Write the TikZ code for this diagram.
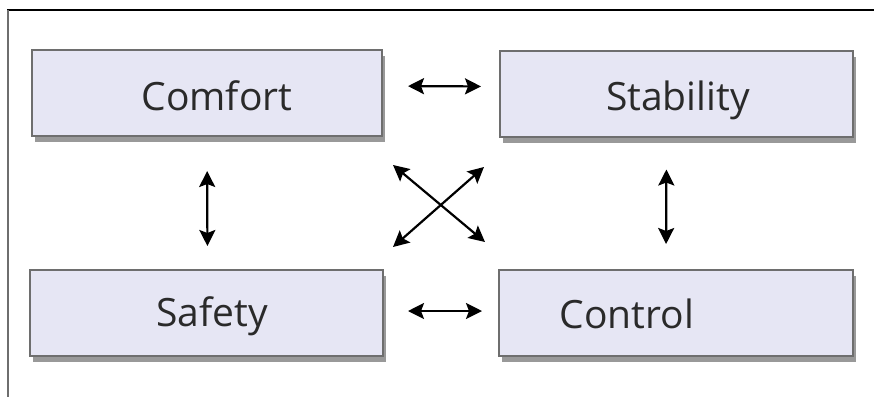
\documentclass[tikz,border=0pt]{standalone}
\usepackage{fontspec}
\setmainfont{Open Sans}
\usetikzlibrary{arrows.meta,shadows}
\definecolor{boxfill}{HTML}{E6E6F4}
\definecolor{boxline}{HTML}{6E6E6E}
\definecolor{txtgray}{HTML}{2A2A2A}
\tikzset{box/.style = {shape = rectangle, draw = boxline, line width = 2pt,
                       fill = boxfill, inner sep = 0pt, minimum height = 86pt,
                       drop shadow = {shadow xshift = 3pt, shadow yshift = -6pt,
                                      fill = black, opacity = 0.4}},
         lbl/.style = {anchor = base, inner sep = 0pt, text = txtgray,
                       font = \fontsize{39}{47}\selectfont},
         link/.style = {line width = 2.2pt, {Stealth[length = 16pt, width = 16pt, inset = 3pt]}-{Stealth[length = 16pt, width = 16pt, inset = 3pt]}}}
\begin{document}
\begin{tikzpicture}[x = 1pt, y = -1pt]
      \useasboundingbox (0, 0) rectangle (874, 397);
      \draw [line width = 1.5pt] (7, 10) -- (874, 10);
      \draw [line width = 2pt, draw = boxline] (8, 10) -- (8, 397);

      \node [box, minimum width = 350pt] (comfort)   at (207, 93)    {};
      \node [box, minimum width = 353pt] (stability) at (676.5, 93.5) {};
      \node [box, minimum width = 353pt] (safety)    at (206.5, 313) {};
      \node [box, minimum width = 354pt] (control)   at (676, 313)   {};

      \node [lbl] (comfortlbl)   at (217, 110) {Comfort};
      \node [lbl] (stabilitylbl) at (678, 110) {Stability};
      \node [lbl] (safetylbl)    at (212, 326) {Safety};
      \node [lbl] (controllbl)   at (627, 328) {Control};

      \draw [link, shorten < = 25pt, shorten > = 18pt]
            ([yshift = 7pt]comfort.east) -- ([yshift = 7pt]stability.west);
      \draw [link, shorten < = 24pt, shorten > = 16pt]
            ([yshift = 2pt]safety.east) -- ([yshift = 2pt]control.west);
      \draw [link, shorten < = 34pt, shorten > = 23pt]
            (comfort.south) -- ([xshift = 1pt]safety.north);
      \draw [link, shorten < = 32pt, shorten > = 25pt]
            ([xshift = -10pt]stability.south) -- ([xshift = -10pt]control.north);

      \coordinate (crossnw) at (393, 165);
      \coordinate (crossse) at (485, 242);
      \coordinate (crosssw) at (393, 247);
      \coordinate (crossne) at (484, 167);
      \draw [link] (crossnw) -- (crossse);
      \draw [link] (crosssw) -- (crossne);
\end{tikzpicture}
\end{document}
